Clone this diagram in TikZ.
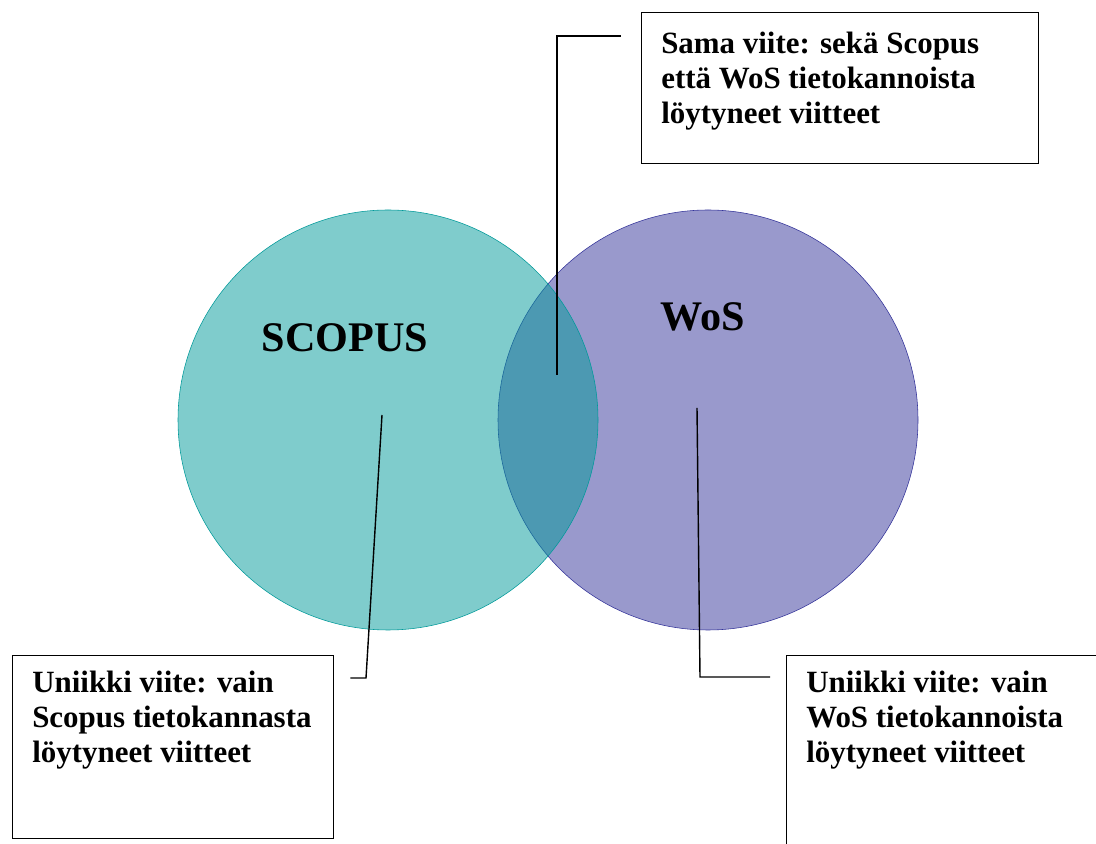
\documentclass[tikz,border=0pt]{standalone}
\usepackage{fontspec}
\setmainfont{Liberation Serif}
\usepackage{xcolor}
\usepackage{tikz}
\usetikzlibrary{positioning}

\definecolor{scopusteal}{RGB}{0,153,153}
\definecolor{wospurple}{RGB}{51,51,153}
\tikzset{
  infobox/.style={draw,line width=1pt,anchor=north west,inner sep=0pt},
  infotext/.style={anchor=north west,inner sep=0pt,align=left,font=\bfseries\fontsize{22}{24.8}\selectfont},
  dbname/.style={font=\bfseries\fontsize{30}{36}\selectfont},
  leader/.style={line width=1pt},
}

\begin{document}
\begin{tikzpicture}[x=1cm,y=1cm]
  \clip (0,0) rectangle (27.4,21.075);
  % WoS
  \node[circle,inner sep=0pt,minimum size=10.5cm,draw=wospurple,fill=wospurple,fill opacity=0.5] (wos) at (17.7,10.575) {};
  % Scopus
  \node[circle,inner sep=0pt,minimum size=10.5cm,draw=scopusteal,fill=scopusteal,fill opacity=0.5] (scopus) at (9.7,10.575) {};
  \node[dbname] (scopuslabel) at (8.625,12.625) {SCOPUS};
  \node[dbname] (woslabel) at (17.575,13.15) {WoS};
  % boxes
  \node[infobox,minimum width=9.925cm,minimum height=3.775cm] (sama) at (16.025,20.775) {};
  \node[infotext] (samatext) at ([shift={(0.5,-0.5)}]sama.north west) {Sama viite: sekä Scopus\\että WoS tietokannoista\\löytyneet viitteet};
  \node[infobox,minimum width=8.025cm,minimum height=4.575cm] (uniiks) at (0.3,4.7) {};
  \node[infotext] (uniikstext) at ([shift={(0.5,-0.4)}]uniiks.north west) {Uniikki viite: vain\\Scopus tietokannasta\\löytyneet viitteet};
  \node[infobox,minimum width=9cm,minimum height=6cm] (uniikw) at (19.65,4.7) {};
  \node[infotext] (uniikwtext) at ([shift={(0.5,-0.4)}]uniikw.north west) {Uniikki viite: vain\\WoS tietokannoista\\löytyneet viitteet};
  % leaders
  \coordinate (samadot) at (13.925,11.7);
  \coordinate (scopusdot) at (9.55,10.7);
  \coordinate (scopusbend) at (9.15,4.125);
  \coordinate (wosdot) at (17.425,10.875);
  \coordinate (wosbend) at (17.5,4.15);
  \draw[leader] (samadot) |- ([xshift=-0.5cm,yshift=-0.6cm]sama.north west);
  \draw[leader] (scopusdot) -- (scopusbend) -- ([xshift=0.4cm,yshift=-0.575cm]uniiks.north east);
  \draw[leader] (wosdot) -- (wosbend) -- ([xshift=-0.4cm,yshift=-0.55cm]uniikw.north west);
\end{tikzpicture}
\end{document}
